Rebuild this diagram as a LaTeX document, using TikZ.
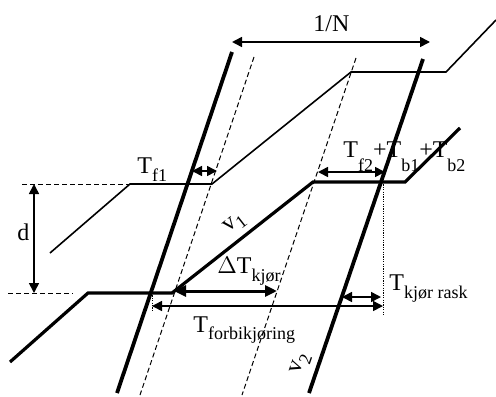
\documentclass[tikz,border=0pt]{standalone}
\usepackage{fontspec}
\setmainfont{Liberation Serif}
\usetikzlibrary{arrows.meta}
\newcommand{\lowsub}[2][4pt]{\raisebox{-#1}{\fontsize{9}{10}\selectfont #2}}
\tikzset{
  track/.style={line width=1.9pt},
  fastrun/.style={line width=1.6pt,line join=miter},
  slowrun/.style={line width=0.8pt},
  guide/.style={line width=0.5pt,dash pattern=on 2.5pt off 1.5pt},
  dotguide/.style={line width=0.5pt,dash pattern=on 0.6pt off 0.6pt},
  dim/.style={{Triangle[length=5pt,width=5pt]}-{Triangle[length=5pt,width=5pt]},line width=0.8pt},
  bigdim/.style={{Triangle[length=6pt,width=5.5pt]}-{Triangle[length=6pt,width=5.5pt]},line width=1.5pt},
  lab/.style={font=\fontsize{12}{13}\selectfont,inner sep=0pt,anchor=base west},
  rlab/.style={font=\fontsize{12}{13}\selectfont,inner sep=0pt},
}
\begin{document}
\begin{tikzpicture}[x=0.5pt,y=-0.5pt]
  \useasboundingbox (0,0) rectangle (496,396);
  % steep lines (blocks) and their dashed copies
  \coordinate (s1t) at (232,52);  \coordinate (s1b) at (117,393);
  \coordinate (s2t) at (423,59);  \coordinate (s2b) at (309,393);
  \coordinate (g1t) at (254,57);  \coordinate (g1b) at (140,395);
  \coordinate (g2t) at (356,58);  \coordinate (g2b) at (242,395);
  \draw[guide] (g1t) -- (g1b);
  \draw[guide] (g2t) -- (g2b);
  \draw[track] (s1t) -- (s1b);
  \draw[track] (s2t) -- (s2b);
  % slow train
  \coordinate (a0) at (50,253);  \coordinate (a1) at (130,184);
  \coordinate (a2) at (212,184); \coordinate (a3) at (351,72);
  \coordinate (a4) at (446,72);  \coordinate (a5) at (496,20);
  \draw[slowrun] (a0) -- (a1) -- (a2) -- (a3) -- (a4) -- (a5);
  % fast train
  \coordinate (b0) at (10,362);  \coordinate (b1) at (88,293);
  \coordinate (b2) at (172,293); \coordinate (b3) at (313,182);
  \coordinate (b4) at (405,182); \coordinate (b5) at (460,128);
  \draw[fastrun] (b0) -- (b1) -- (b2) -- (b3) -- (b4) -- (b5);
  % helper lines
  \coordinate (h1) at (22,184);  \coordinate (h2) at (8,293);  \coordinate (h3) at (73,293);
  \draw[guide] (h1) -- (a1);
  \draw[guide] (h2) -- (h3);
  \coordinate (x1) at (152,293); \coordinate (x1b) at (152,310);
  \coordinate (x2) at (383,182); \coordinate (x2b) at (383,316);
  \draw[dotguide] (x1) -- (x1b);
  \draw[dotguide] (x2) -- (x2b);
  % dimensions
  \coordinate (dt) at (34,184);  \coordinate (db) at (34,293);
  \draw[dim] (dt) -- (db);
  \node[lab] (dl) at (17,240) {d};
  \coordinate (nl) at (232,42);  \coordinate (nr) at (430,42);
  \draw[dim] (nl) -- (nr);
  \node[lab] (nlab) at (313,31) {1/N};
  \coordinate (f1l) at (192,171); \coordinate (f1r) at (217,171);
  \draw[dim] (f1l) -- (f1r);
  \node[lab] (f1lab) at (137,173) {T\lowsub{f1}};
  \coordinate (f2l) at (318,172); \coordinate (f2r) at (385,172);
  \draw[dim] (f2l) -- (f2r);
  \node[lab] (f2lab) at (343,157) {T\lowsub[7pt]{f2}+T\lowsub[7pt]{b1}+T\lowsub[7pt]{b2}};
  \coordinate (kl) at (174,291); \coordinate (kr) at (277,291);
  \draw[bigdim] (kl) -- (kr);
  \node[lab] (klab) at (217,273) {$\Delta$T\lowsub{kjør}};
  \coordinate (fl) at (152,306); \coordinate (fr) at (383,306);
  \draw[dim] (fl) -- (fr);
  \node[lab] (flab) at (193,332) {T\lowsub[3.5pt]{forbikjøring}};
  \coordinate (rl) at (342,297); \coordinate (rr) at (381,297);
  \draw[dim] (rl) -- (rr);
  \node[lab] (rlab) at (389,290) {T\lowsub{kjør rask}};
  % speeds
  \node[rlab,rotate=38] (v1) at (235,224) {v\lowsub[3pt]{1}};
  \node[rlab,rotate=71] (v2) at (301,364) {v\lowsub[3pt]{2}};
\end{tikzpicture}
\end{document}
